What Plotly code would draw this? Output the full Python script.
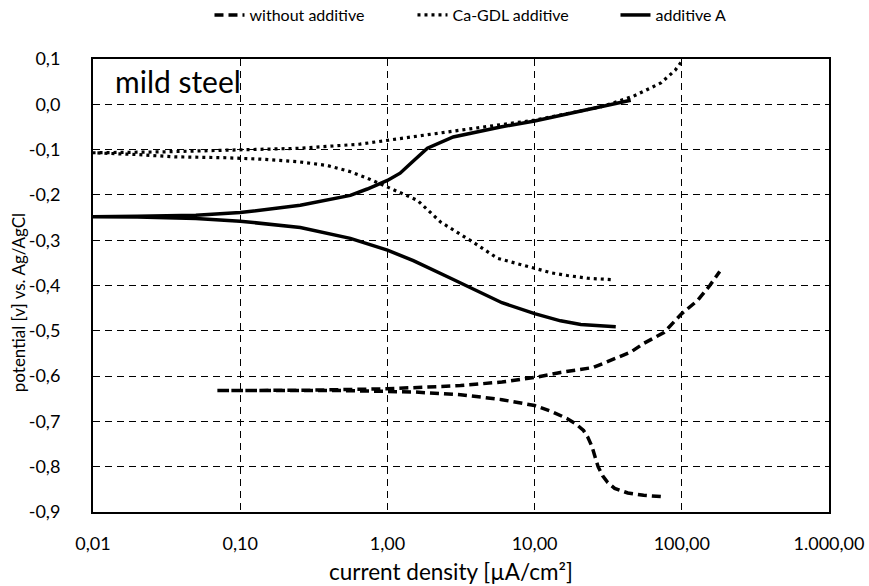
import plotly.graph_objects as go

# ---- data ----
# without additive: cathodic branch (from its end back to the start), then anodic branch
without_x = [72, 55, 43, 35, 31.4, 29, 27, 25.5, 24.5, 23, 21.5, 19, 16.7, 13, 10, 6, 3.14, 1.5, 0.5, 0.2, 0.0687,
             0.3, 1.0, 3.14, 6, 10, 15, 25, 45, 55, 75.5, 100, 128, 155, 181]
without_y = [-0.866, -0.863, -0.858, -0.848, -0.835, -0.82, -0.80, -0.775, -0.755, -0.735, -0.72, -0.705, -0.694,
             -0.678, -0.665, -0.652, -0.641, -0.635, -0.632, -0.632, -0.632,
             -0.631, -0.628, -0.621, -0.613, -0.603, -0.592, -0.581, -0.547, -0.528, -0.504, -0.462, -0.433, -0.40,
             -0.369]

# Ca-GDL additive
cagdl_x = [32.9, 23, 16.7, 13, 10, 7, 5.6, 3.85, 2.3, 1.6, 1.0, 0.73, 0.55, 0.39, 0.25, 0.137, 0.08, 0.036, 0.02,
           0.01, 0.03, 0.1, 0.257, 0.65, 1.0, 3.14, 10, 28, 47, 72, 90, 100]
cagdl_y = [-0.387, -0.384, -0.378, -0.372, -0.362, -0.348, -0.34, -0.305, -0.26, -0.212, -0.183, -0.163, -0.148,
           -0.135, -0.127, -0.121, -0.118, -0.116, -0.111, -0.107, -0.105, -0.101, -0.097, -0.088, -0.08, -0.057,
           -0.035, -0.006, 0.018, 0.047, 0.075, 0.095]

# additive A
addA_x = [35.6, 25, 20.6, 15, 10, 6, 3.67, 2.69, 1.5, 1.0, 0.56, 0.256, 0.1, 0.05, 0.02, 0.01,
          0.02, 0.05, 0.1, 0.256, 0.56, 0.73, 1.0, 1.22, 1.5, 1.87, 2.8, 5.87, 10, 21.5, 45]
addA_y = [-0.491, -0.488, -0.486, -0.478, -0.462, -0.438, -0.404, -0.384, -0.345, -0.322, -0.296, -0.272, -0.258,
          -0.252, -0.249, -0.248,
          -0.247, -0.245, -0.239, -0.223, -0.201, -0.187, -0.168, -0.152, -0.125, -0.097, -0.072, -0.05, -0.037,
          -0.013, 0.009]

series_names = ["without additive", "Ca-GDL additive", "additive A"]

x_tick_vals = [0.01, 0.1, 1, 10, 100, 1000]
x_tick_labels = ["0,01", "0,10", "1,00", "10,00", "100,00", "1.000,00"]
y_tick_vals = [0.1, 0.0, -0.1, -0.2, -0.3, -0.4, -0.5, -0.6, -0.7, -0.8, -0.9]
y_tick_labels = ["0,1", "0,0", "-0,1", "-0,2", "-0,3", "-0,4", "-0,5", "-0,6", "-0,7", "-0,8", "-0,9"]

FONT = "Lato"

fig = go.Figure()
fig.add_trace(go.Scatter(x=without_x, y=without_y, mode="lines", name=series_names[0],
                         line=dict(color="black", width=3.5, dash="9px,5px")))
fig.add_trace(go.Scatter(x=cagdl_x, y=cagdl_y, mode="lines", name=series_names[1],
                         line=dict(color="black", width=3.2, dash="3px,4px")))
fig.add_trace(go.Scatter(x=addA_x, y=addA_y, mode="lines", name=series_names[2],
                         line=dict(color="black", width=3.5)))

fig.update_layout(
    width=869, height=586,
    margin=dict(l=93, r=40, t=59, b=74, autoexpand=False),
    paper_bgcolor="white", plot_bgcolor="white",
    font=dict(family=FONT, color="black", size=18),
    showlegend=True,
    legend=dict(orientation="h", x=0.572, xanchor="center", y=1.097, yanchor="middle",
                entrywidth=158, entrywidthmode="pixels",
                font=dict(size=16, family=FONT), bgcolor="rgba(0,0,0,0)"),
    annotations=[
        dict(text="mild steel", xref="paper", yref="paper", x=0.027, y=0.952,
             xanchor="left", yanchor="middle", showarrow=False,
             font=dict(size=30, family=FONT, color="black")),
        dict(text="current density [µA/cm²]", xref="paper", yref="paper", x=0.486, y=-0.132,
             xanchor="center", yanchor="middle", showarrow=False,
             font=dict(size=22.5, family=FONT, color="black")),
        dict(text="potential [v] vs. Ag/AgCl", xref="paper", yref="paper", x=-0.102, y=0.463,
             xanchor="center", yanchor="middle", showarrow=False, textangle=-90,
             font=dict(size=17, family=FONT, color="black")),
    ],
)

fig.update_xaxes(type="log", range=[-2, 3], tickvals=x_tick_vals, ticktext=x_tick_labels,
                 showline=True, linecolor="black", linewidth=2, mirror=True,
                 showgrid=True, gridcolor="black", gridwidth=1.3, griddash="7px,5px",
                 zeroline=False, ticks="", ticklabelstandoff=14,
                 tickfont=dict(size=18, family=FONT))
fig.update_yaxes(range=[-0.9, 0.1], tickvals=y_tick_vals, ticktext=y_tick_labels,
                 showline=True, linecolor="black", linewidth=2, mirror=True,
                 showgrid=True, gridcolor="black", gridwidth=1.3, griddash="7px,5px",
                 zeroline=False, ticks="", ticklabelstandoff=27,
                 tickfont=dict(size=18, family=FONT))

fig.write_html("out.html")
